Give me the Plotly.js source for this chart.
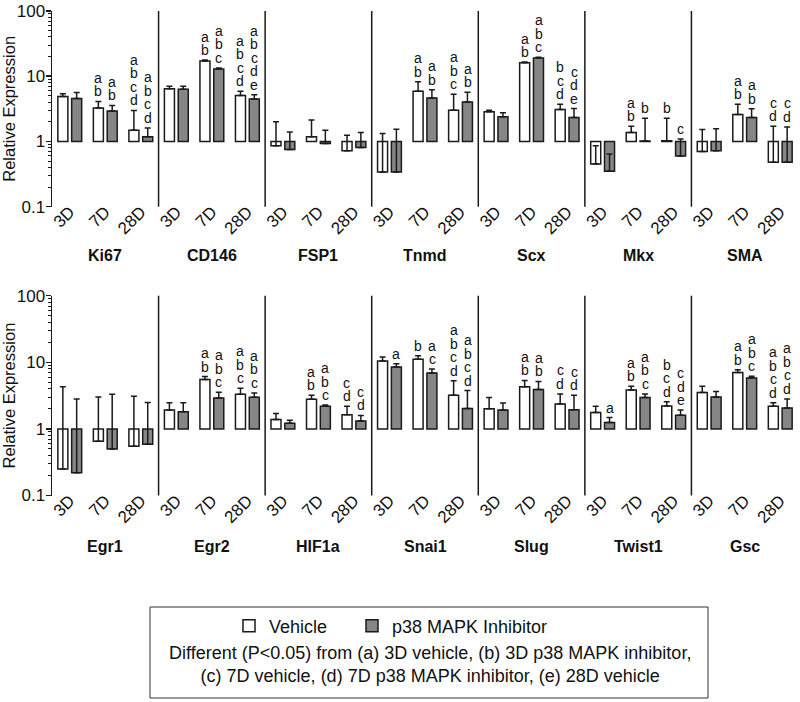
<!DOCTYPE html>
<html><head><meta charset="utf-8">
<script src="https://cdn.plot.ly/plotly-3.0.1.min.js"></script>
<style>html,body{margin:0;padding:0;background:#fff}#chart{width:800px;height:702px}</style>
</head><body><div id="chart"></div>
<script>
const timepoints = ["3D", "7D", "28D"];
const genesTop = ["Ki67", "CD146", "FSP1", "Tnmd", "Scx", "Mkx", "SMA"];
const genesBottom = ["Egr1", "Egr2", "HIF1a", "Snai1", "Slug", "Twist1", "Gsc"];
const seriesNames = ["Vehicle", "p38 MAPK Inhibitor"];

// Top panel (gene order as genesTop, each 3D, 7D, 28D)
const vehTop     = [4.9, 3.27, 1.49, 6.44, 17.1, 5.05, 0.86, 1.18, 0.72, 0.34, 5.87, 3.0, 2.85, 16.1, 3.09, 0.45, 1.37, 1.03, 0.70, 2.6, 0.48];
const vehTopHi   = [5.4, 4.1, 2.99, 7.05, 17.7, 5.87, 2.0, 2.13, 1.25, 1.32, 8.2, 5.3, 3.0, 16.5, 3.72, 0.86, 1.71, 2.26, 1.52, 3.72, 1.71];
const inhTop     = [4.55, 2.92, 1.18, 6.3, 12.9, 4.48, 0.75, 0.93, 0.81, 0.34, 4.64, 4.04, 2.39, 19.0, 2.34, 0.35, 1.02, 0.60, 0.72, 2.34, 0.48];
const inhTopHi   = [5.65, 3.56, 1.61, 7.0, 13.4, 5.2, 1.4, 1.49, 1.37, 1.54, 6.2, 5.66, 2.75, 19.5, 3.2, 0.64, 2.26, 1.09, 1.57, 3.16, 1.67];
const vehTopLetters = ["", "ab", "abcd", "", "ab", "abcd", "", "", "", "", "ab", "abc", "", "ab", "bcd", "", "ab", "b", "", "ab", "cd"];
const inhTopLetters = ["", "ab", "abcd", "", "abc", "abcde", "", "", "", "", "ab", "ab", "", "abc", "cde", "", "b", "c", "", "ab", "cd"];

// Bottom panel
const vehBot     = [0.25, 0.65, 0.55, 1.92, 5.5, 3.31, 1.38, 2.78, 1.63, 10.5, 11.1, 3.2, 2.01, 4.28, 2.36, 1.77, 3.85, 2.2, 3.51, 7.05, 2.18];
const vehBotHi   = [4.3, 3.0, 3.1, 2.48, 6.1, 4.08, 1.71, 3.2, 2.18, 12.0, 12.5, 5.3, 2.95, 5.34, 3.35, 2.18, 4.38, 2.56, 4.38, 7.74, 2.48];
const inhBot     = [0.22, 0.50, 0.59, 1.81, 2.92, 2.98, 1.22, 2.18, 1.31, 8.5, 6.9, 2.03, 1.92, 3.9, 1.94, 1.25, 2.95, 1.61, 3.02, 5.8, 2.06];
const inhBotHi   = [2.8, 3.3, 2.5, 2.48, 3.55, 3.47, 1.35, 2.28, 1.59, 9.55, 7.9, 3.77, 2.45, 5.15, 3.2, 1.48, 3.35, 1.92, 3.63, 6.2, 2.82];
const vehBotLetters = ["", "", "", "", "ab", "abc", "", "ab", "cd", "", "b", "abcd", "", "ab", "cd", "", "ab", "bcd", "", "ab", "abcd"];
const inhBotLetters = ["", "", "", "", "abc", "abc", "", "abc", "cd", "a", "ac", "abcd", "", "ab", "cd", "a", "abc", "cde", "", "abc", "abcd"];

const legendNote = "Different (P&lt;0.05) from (a) 3D vehicle, (b) 3D p38 MAPK inhibitor,<br>(c) 7D vehicle, (d) 7D p38 MAPK inhibitor, (e) 28D vehicle";

const FONT = 'Arial, "Liberation Sans", sans-serif';
const INK = '#1a1a1a';
const GRAY = '#868686';

// pixel -> paper helpers for layout placement
const W = 800, H = 702, ML = 52, MR = 2, MT = 4, MB = 0;
const px = v => (v - ML) / (W - ML - MR);
const py = v => 1 - (v - MT) / (H - MT - MB);

const nT = timepoints.length;
const xPos = [];
const tickText = [];
for (let g = 0; g < genesTop.length; g++) for (let t = 0; t < nT; t++) { xPos.push(g * nT + t); tickText.push(timepoints[t]); }

function barTrace(vals, hi, name, color, xa, ya, showleg, leg) {
  return {
    type: 'bar', name: name, x: xPos, y: vals.map(v => v - 1), base: 1,
    xaxis: xa, yaxis: ya, showlegend: showleg, legend: leg,
    marker: {color: color, line: {color: INK, width: 1.5}},
    error_y: {type: 'data', symmetric: false, array: hi.map((h, i) => h - vals[i]), arrayminus: vals.map(() => 0),
              color: INK, thickness: 1.5, width: 3},
    hoverinfo: 'skip'
  };
}

const data = [
  barTrace(vehTop, vehTopHi, seriesNames[0], '#ffffff', 'x', 'y', true, 'legend'),
  barTrace(inhTop, inhTopHi, seriesNames[1], GRAY, 'x', 'y', true, 'legend2'),
  barTrace(vehBot, vehBotHi, seriesNames[0], '#ffffff', 'x2', 'y2', false, 'legend'),
  barTrace(inhBot, inhBotHi, seriesNames[1], GRAY, 'x2', 'y2', false, 'legend2')
];

const annotations = [];
const LINE = 13.5;
function addLetters(letters, hi, xref, yref, shift) {
  letters.forEach((s, i) => {
    const n = s.length;
    for (let k = 0; k < n; k++) {
      annotations.push({
        xref: xref, yref: yref, x: xPos[i], y: Math.log10(hi[i]), xshift: shift,
        yshift: (n - 1 - k) * LINE, yanchor: 'bottom', xanchor: 'center',
        text: s[k], showarrow: false, font: {family: FONT, size: 14, color: '#111'}
      });
    }
  });
}
addLetters(vehTopLetters, vehTopHi, 'x', 'y', -7);
addLetters(inhTopLetters, inhTopHi, 'x', 'y', 7);
addLetters(vehBotLetters, vehBotHi, 'x2', 'y2', -7);
addLetters(inhBotLetters, inhBotHi, 'x2', 'y2', 7);

function geneLabels(genes, xref, y) {
  genes.forEach((gname, g) => annotations.push({
    xref: xref, yref: 'paper', x: g * nT + (nT - 1) / 2, y: y, yanchor: 'middle',
    text: '<b>' + gname + '</b>', showarrow: false, font: {family: FONT, size: 16, color: '#111'}
  }));
}
geneLabels(genesTop, 'x', py(256));
geneLabels(genesBottom, 'x2', py(546));

annotations.push({
  xref: 'paper', yref: 'paper', x: px(430), y: py(664), xanchor: 'center', yanchor: 'middle',
  text: legendNote, showarrow: false, align: 'center', font: {family: FONT, size: 18, color: '#111'}
});

const shapes = [];
[['x', 'y'], ['x2', 'y2']].forEach(([xa, ya]) => {
  for (let g = 1; g < genesTop.length; g++) {
    shapes.push({type: 'line', xref: xa, yref: ya + ' domain', x0: g * nT - 0.5, x1: g * nT - 0.5, y0: 0, y1: 1,
                 line: {color: INK, width: 1.5}});
  }
  shapes.push({type: 'line', xref: xa + ' domain', yref: ya, x0: 0, x1: 1, y0: 0, y1: 0,
               line: {color: INK, width: 1.5}});
});
shapes.push({type: 'rect', xref: 'paper', yref: 'paper', x0: px(150), x1: px(708),
             y0: py(698), y1: py(607), line: {color: '#333', width: 1}, fillcolor: 'rgba(0,0,0,0)'});

function xAxis(anchor) {
  return {
    anchor: anchor, range: [-0.5, xPos.length - 0.5], tickmode: 'array', tickvals: xPos, ticktext: tickText,
    tickangle: -45, ticks: '', showline: false, showgrid: false, zeroline: false, ticklabelstandoff: -9,
    ticklabeloverflow: 'allow',
    tickfont: {family: FONT, size: 17, color: '#111'}
  };
}
function yAxis(domain, anchor) {
  return {
    domain: domain, anchor: anchor, type: 'log', range: [-1, 2], dtick: 1, showgrid: false, zeroline: false,
    showline: true, linecolor: INK, linewidth: 1.5, ticks: 'outside', ticklen: 5, tickwidth: 1.5, tickcolor: INK,
    minor: {ticks: 'outside', ticklen: 3, tickwidth: 1, tickcolor: INK, dtick: 'D1', showgrid: false},
    ticklabelstandoff: -3, ticklabeloverflow: 'allow',
    tickfont: {family: FONT, size: 17, color: '#111'},
    title: {text: 'Relative Expression', font: {family: FONT, size: 16.5, color: '#111'}, standoff: 4}
  };
}

const legendCommon = {orientation: 'h', xanchor: 'left', yanchor: 'middle', y: py(626),
  font: {family: FONT, size: 18, color: '#111'}, bgcolor: 'rgba(0,0,0,0)', itemclick: false};

const layout = {
  width: W, height: H, margin: {l: ML, r: MR, t: MT, b: MB},
  paper_bgcolor: '#fff', plot_bgcolor: 'rgba(0,0,0,0)',
  font: {family: FONT, color: '#111'},
  barmode: 'group', bargap: 0.222, bargroupgap: 0.275,
  xaxis: xAxis('y'), yaxis: yAxis([py(206.7), py(11)], 'x'),
  xaxis2: xAxis('y2'), yaxis2: yAxis([py(495.5), py(295.7)], 'x2'),
  showlegend: true,
  legend: Object.assign({}, legendCommon, {x: px(229)}),
  legend2: Object.assign({}, legendCommon, {x: px(352)}),
  annotations: annotations, shapes: shapes
};

Plotly.newPlot('chart', data, layout, {displayModeBar: false, staticPlot: true});
</script></body></html>
